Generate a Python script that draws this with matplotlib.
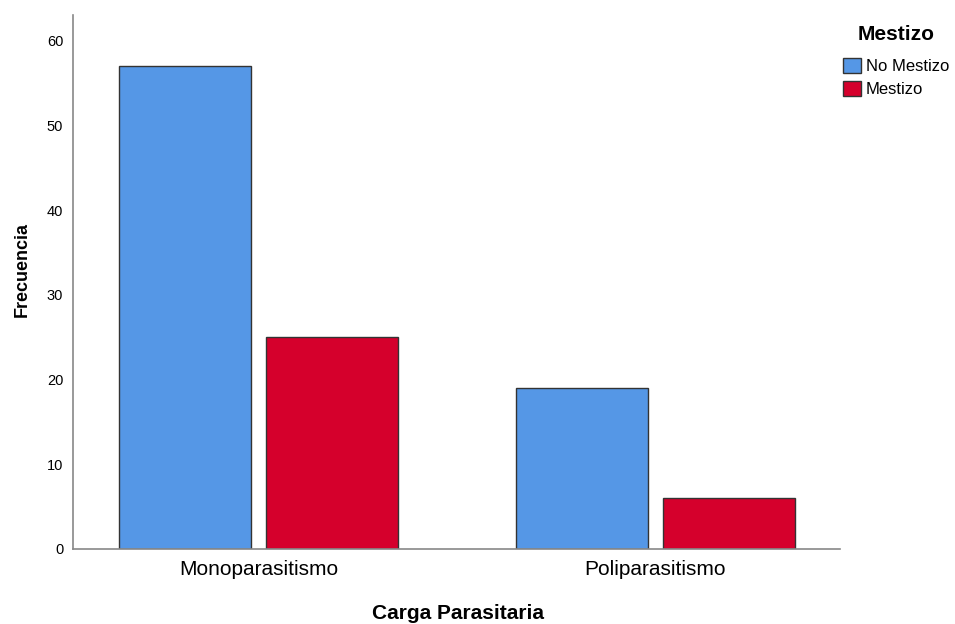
import matplotlib
matplotlib.use("Agg")
import matplotlib.pyplot as plt
import numpy as np
from matplotlib.patches import Patch

plt.rcParams["font.family"] = ["Liberation Sans", "DejaVu Sans"]

categories = ["Monoparasitismo", "Poliparasitismo"]
series_names = ["No Mestizo", "Mestizo"]
no_mestizo = [57, 19]
mestizo = [25, 6]
colors = ["#5597e6", "#d5002c"]

fig = plt.figure(figsize=(9.55, 6.24), dpi=100)
ax = fig.add_axes([73/955, 1-549/624, (840-73)/955, (549-15)/624])

x = np.arange(len(categories))
w = 0.3325
off = 0.185
ax.bar(x - off, no_mestizo, width=w, color=colors[0], edgecolor="#333333", linewidth=1.0)
ax.bar(x + off, mestizo, width=w, color=colors[1], edgecolor="#333333", linewidth=1.0)

ax.set_xlim(-0.467, 1.465)
ax.set_ylim(0, 63.07)
ax.set_yticks([0, 10, 20, 30, 40, 50, 60])
ax.set_xticks(x)
ax.set_xticklabels(categories, fontsize=15)
ax.tick_params(axis="both", length=0)
ax.tick_params(axis="y", labelsize=10.5, pad=7)
ax.tick_params(axis="x", pad=8)
for s in ["top", "right"]:
    ax.spines[s].set_visible(False)
for s in ["left", "bottom"]:
    ax.spines[s].set_color("#888888")
    ax.spines[s].set_linewidth(1.2)
ax.set_xlabel("Carga Parasitaria", fontsize=15, fontweight="bold")
ax.xaxis.set_label_coords((458-73)/767, -(604-549)/534)
ax.set_ylabel("Frecuencia", fontsize=13, fontweight="bold")
ax.yaxis.set_label_coords((31-73)/767, (549-270)/534)

handles = [Patch(facecolor=c, edgecolor="#333333", label=n) for c, n in zip(colors, series_names)]
leg = fig.legend(handles=handles, title="Mestizo", loc="upper left",
                 bbox_to_anchor=(843/955, 1-25/624), frameon=False,
                 fontsize=12, title_fontproperties={"weight": "bold", "size": 15},
                 handlelength=1.08, handleheight=1.05, handletextpad=0.3,
                 labelspacing=0.4, borderaxespad=0, borderpad=0.0)
leg._legend_box.sep = 10
fig.savefig("out.png", dpi=100)
